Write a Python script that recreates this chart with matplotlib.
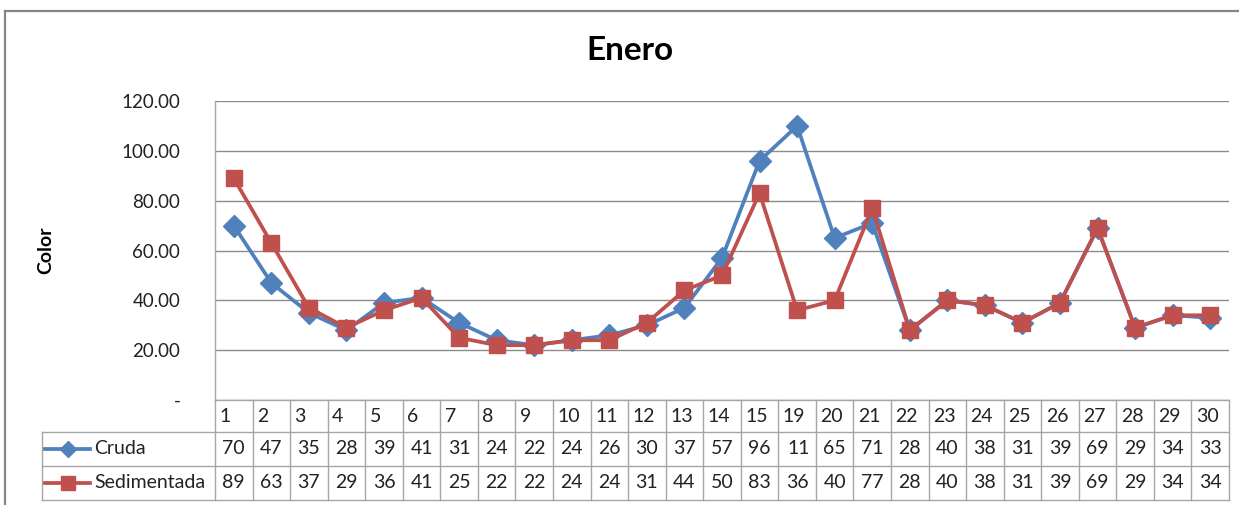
import matplotlib
matplotlib.use("Agg")
import numpy as np
import matplotlib.pyplot as plt
import matplotlib.transforms as mtransforms
from matplotlib.lines import Line2D
from matplotlib.ticker import FuncFormatter

# ---- data -------------------------------------------------------------
days = ["1", "2", "3", "4", "5", "6", "7", "8", "9", "10", "11", "12", "13",
        "14", "15", "19", "20", "21", "22", "23", "24", "25", "26", "27",
        "28", "29", "30"]
cruda = [70, 47, 35, 28, 39, 41, 31, 24, 22, 24, 26, 30, 37, 57, 96, 110,
         65, 71, 28, 40, 38, 31, 39, 69, 29, 34, 33]
sedimentada = [89, 63, 37, 29, 36, 41, 25, 22, 22, 24, 24, 31, 44, 50, 83,
               36, 40, 77, 28, 40, 38, 31, 39, 69, 29, 34, 34]
series_names = ["Cruda", "Sedimentada"]
y_ticks = [0, 20, 40, 60, 80, 100, 120]
title = "Enero"
y_label = "Color"

# ---- style ------------------------------------------------------------
BLUE = "#4F81BD"
RED = "#C0504D"
GRID = "#8C8C8C"
TABLE = "#A6A6A6"
TXT = "#222222"
FONT = ["Lato", "DejaVu Sans"]
plt.rcParams["font.family"] = FONT
FS_TABLE = 14

W, H = 1239, 505
fig = plt.figure(figsize=(W / 100, H / 100), dpi=100)

# plot area in pixels: left 215, right 1229, top 101, bottom 400
PL, PR, PT, PB = 215, 1229, 101, 400
ax = fig.add_axes([PL / W, 1 - PB / H, (PR - PL) / W, (PB - PT) / H])

x = np.arange(len(days))
ax.plot(x, cruda, color=BLUE, lw=2.7, marker="D", ms=11, zorder=3,
        clip_on=False)
ax.plot(x, sedimentada, color=RED, lw=2.7, marker="s", ms=12, zorder=4,
        clip_on=False)

ax.set_xlim(-0.5, len(days) - 0.5)
ax.set_ylim(0, 120)
ax.set_yticks(y_ticks)
ax.yaxis.set_major_formatter(
    FuncFormatter(lambda v, p: "-" if v == 0 else f"{v:.2f}"))
ax.tick_params(axis="y", length=0, pad=25, labelsize=13.5, labelcolor=TXT)
ax.set_xticks([])
ax.grid(axis="y", color=GRID, lw=1.0)
ax.set_axisbelow(True)
for s in ("top", "right"):
    ax.spines[s].set_visible(False)
for s in ("left", "bottom"):
    ax.spines[s].set_color(TABLE)
    ax.spines[s].set_linewidth(1.0)

# ---- data table under the plot ---------------------------------------
def fy(py):
    return (PB - py) / (PB - PT)


def fx(px):
    return (px - PL) / (PR - PL)


trans = mtransforms.blended_transform_factory(ax.transData, ax.transAxes)
row_top, row1, row2, row_bot = 400, 432, 466, 500
leg_left = 42

# horizontal rules
for py in (row1, row2, row_bot):
    ax.add_line(Line2D([fx(leg_left), 1], [fy(py), fy(py)],
                       transform=ax.transAxes, color=TABLE, lw=1.0,
                       clip_on=False))
# vertical rules between categories
for i in range(len(days) + 1):
    ax.add_line(Line2D([i - 0.5, i - 0.5], [fy(row_top), fy(row_bot)],
                       transform=trans, color=TABLE, lw=1.0, clip_on=False))
ax.add_line(Line2D([fx(leg_left), fx(leg_left)], [fy(row1), fy(row_bot)],
                   transform=ax.transAxes, color=TABLE, lw=1.0, clip_on=False))

# category header
for i, d in enumerate(days):
    ax.text(i - 0.5 + 0.12, fy((row_top + row1) / 2), d, transform=trans,
            ha="left", va="center", fontsize=FS_TABLE, color=TXT,
            clip_on=False)

# value rows
for vals, (ya, yb) in ((cruda, (row1, row2)), (sedimentada, (row2, row_bot))):
    yc = fy((ya + yb) / 2)
    for i, v in enumerate(vals):
        label = f"{v:.0f}"
        if len(label) > 2:
            # a three-digit value is cut off at the cell border
            t = ax.text(i - 0.5 + 0.24, yc, label, transform=trans,
                        ha="left", va="center", fontsize=FS_TABLE, color=TXT)
            box = mtransforms.Bbox.from_extents(i - 0.5, fy(yb),
                                                i - 0.5 + 0.78, fy(ya))
            t.set_clip_path(None)
            t.set_clip_box(mtransforms.TransformedBbox(box, trans))
            t.set_clip_on(True)
        else:
            ax.text(i, yc, label, transform=trans, ha="center", va="center",
                    fontsize=FS_TABLE, color=TXT, clip_on=False)

# legend keys inside the table
for name, color, mk, ms, (ya, yb) in (
        (series_names[0], BLUE, "D", 8.5, (row1, row2)),
        (series_names[1], RED, "s", 10, (row2, row_bot))):
    yc = fy((ya + yb) / 2)
    ax.add_line(Line2D([fx(45), fx(90)], [yc, yc], transform=ax.transAxes,
                       color=color, lw=2.7, clip_on=False))
    ax.add_line(Line2D([fx(67.5)], [yc], transform=ax.transAxes, color=color,
                       marker=mk, ms=ms, lw=0, clip_on=False))
    ax.text(fx(94), yc, name, transform=ax.transAxes, ha="left",
            va="center", fontsize=FS_TABLE, color=TXT, clip_on=False)

# ---- titles -----------------------------------------------------------
fig.text(630 / W, 1 - 51 / H, title, ha="center", va="center",
         fontsize=24, fontweight="bold", color="black")
fig.text(46 / W, 1 - 250 / H, y_label, rotation=90, ha="center",
         va="center", fontsize=14, fontweight="bold", color="black")

# chart frame (top and left edges)
fig.add_artist(Line2D([5 / W, 5 / W], [0, 1 - 11 / H], transform=fig.transFigure,
                      color="#868686", lw=1.6))
fig.add_artist(Line2D([5 / W, 1], [1 - 11 / H, 1 - 11 / H],
                      transform=fig.transFigure, color="#868686", lw=1.6))

fig.savefig("out.png", dpi=100)
